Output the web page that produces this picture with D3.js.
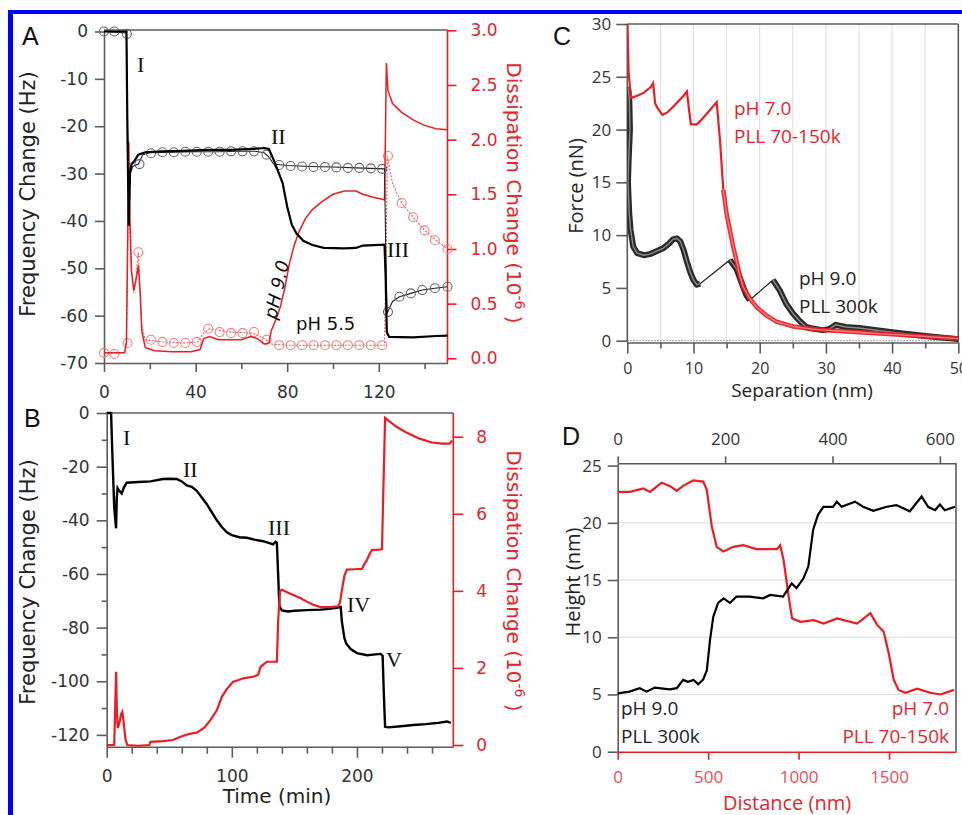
<!DOCTYPE html>
<html>
<head>
<meta charset="utf-8">
<script src="https://cdn.jsdelivr.net/npm/d3@7/dist/d3.min.js"></script>
<style>
body { margin: 0; background: #fff; }
svg { display: block; }
</style>
</head>
<body>
<svg width="962" height="815"></svg>
<script>
// ---------- Panel A : QCM-D, pH 9.0 (plain lines) and pH 5.5 (circles)
const aFreqPH9 = [[0,0],[9.8,0],[10.2,-20],[10.8,-41],[11.3,-30],[12,-28],[13,-27.5],[15,-26],[18,-25.5],[25,-25.3],[35,-25.2],[45,-25],[55,-25],[65,-24.8],[70,-24.6],[72,-24.8],[74,-27],[76,-29.5],[78,-32],[80,-37],[82,-40.8],[84,-42.6],[87,-44.2],[91,-45.1],[96,-45.7],[105,-45.8],[110,-45.7],[113,-45.2],[122.5,-45],[123,-52],[123.5,-63.5],[124.5,-64.5],[135,-64.6],[145,-64.3],[150,-64.2]];
const aDissPH9 = [[0,0.05],[9,0.05],[9.8,0.15],[10.3,1.0],[10.8,1.98],[11.3,1.3],[12,0.8],[13,0.62],[14,0.72],[15,0.85],[15.8,0.6],[16.5,0.25],[18,0.1],[22,0.07],[30,0.06],[38,0.06],[42,0.08],[43.5,0.18],[46,0.2],[50,0.17],[60,0.17],[64,0.2],[67,0.18],[70,0.13],[72,0.14],[73,0.25],[75,0.35],[77,0.47],[79,0.65],[81,0.87],[83,1.03],[85,1.15],[88,1.28],[91,1.36],[95,1.43],[100,1.5],[105,1.53],[110,1.53],[113,1.5],[118,1.47],[122.5,1.45],[123,2.2],[123.3,2.7],[124,2.45],[126,2.33],[130,2.25],[135,2.18],[140,2.13],[145,2.1],[150,2.09]];
const aFreqPH55 = [[0,0],[9.8,-0.3],[10.3,-20],[10.9,-40],[11.5,-30],[12.5,-28.5],[15,-28],[17,-26],[20,-25.6],[30,-25.5],[40,-25.4],[50,-25.4],[60,-25.3],[66,-25.3],[70,-25.6],[72,-26.5],[74,-28],[80,-28.3],[90,-28.5],[100,-28.6],[110,-28.8],[122.5,-29],[123,-45],[123.6,-59.5],[126,-57],[129,-56],[134,-55.3],[139,-54.6],[144.5,-54.2],[150,-53.9]];
const aFreqPH55Marks = [[0,0],[4.5,0],[10,-0.5],[15.5,-28],[20.5,-25.7],[25.5,-25.5],[30.5,-25.5],[35.5,-25.4],[40.5,-25.4],[45.5,-25.4],[50.5,-25.4],[55.5,-25.3],[60.5,-25.3],[65.5,-25.3],[71,-26],[76.5,-28.2],[81.5,-28.4],[86.5,-28.5],[91.5,-28.6],[96.5,-28.6],[101.5,-28.7],[106.5,-28.8],[111.5,-28.8],[116.5,-28.9],[121.5,-29],[124,-59.2],[129,-56],[134,-55.3],[139,-54.6],[144.5,-54.2],[150,-53.9]];
const aDissPH55 = [[0,0.05],[9,0.05],[9.8,0.15],[10.3,1.0],[10.8,1.9],[11.3,1.2],[12,0.8],[13,0.6],[14,0.75],[15,0.97],[15.8,0.6],[16.5,0.3],[18,0.17],[25,0.15],[35,0.14],[41,0.15],[43,0.22],[46,0.27],[55,0.24],[65,0.23],[70,0.18],[73,0.13],[80,0.12],[100,0.12],[122.5,0.12],[123.2,1.0],[123.7,1.85],[126,1.6],[130,1.42],[135,1.29],[140,1.17],[145,1.08],[150,1.0]];
const aDissPH55Marks = [[0,0.05],[4.5,0.04],[10.3,0.14],[15,0.97],[20.5,0.17],[25.5,0.15],[30.5,0.14],[35.5,0.14],[40.5,0.15],[45.5,0.27],[50.5,0.24],[55.5,0.23],[60.5,0.23],[65.5,0.24],[71,0.17],[76.5,0.12],[81.5,0.12],[86.5,0.12],[91.5,0.12],[96.5,0.12],[101.5,0.12],[106.5,0.12],[111.5,0.12],[116.5,0.12],[121.5,0.12],[124,1.85],[130,1.42],[135,1.29],[140,1.17],[144.5,1.08],[150,1.0]];
const aXTicks = [0, 40, 80, 120];
const aXMinor = [20, 60, 100, 140];
const aYTicks = [0, -10, -20, -30, -40, -50, -60, -70];
const aY2Ticks = [0, 0.5, 1, 1.5, 2, 2.5, 3];

// ---------- Panel B : QCM-D, layer by layer
const bFreq = [[0,0],[3.5,0],[4.5,-15],[6,-35],[7.5,-43],[8,-32],[8.7,-28],[10,-29],[12,-30],[13.5,-28],[16,-26],[25,-25.7],[35,-25.5],[45,-24.6],[50,-24.5],[56,-24.6],[60,-25.5],[64,-27],[68,-27.5],[72,-29],[76,-31.5],[80,-34],[84,-37],[88,-40],[92,-42.5],[96,-44.5],[100,-45.5],[106,-46.3],[112,-46.5],[118,-47.2],[125,-47.8],[130,-48.5],[133,-49],[135,-48],[136,-48.3],[137,-60],[138,-72],[140,-73.6],[145,-74],[150,-73.7],[160,-73.5],[171,-73.3],[178,-73],[185,-72.5],[187,-72.3],[188,-78],[190,-84],[191.5,-86],[195,-88],[200,-89.5],[208,-90.3],[215,-90],[219,-89.8],[220.5,-90.5],[221.5,-105],[222.5,-117],[225,-117.2],[235,-116.8],[245,-116.3],[255,-116],[265,-115.5],[272,-115],[275,-115.5]];
const bDiss = [[0,0],[6,0],[6.8,1.0],[7.5,1.9],[8.2,0.8],[8.8,0.44],[10,0.55],[11.5,0.8],[12.5,0.86],[13.5,0.6],[15,0.15],[16.5,0],[25,-0.02],[34,0],[35,0.08],[45,0.1],[53,0.13],[58,0.2],[63,0.26],[68,0.3],[72,0.32],[78,0.45],[83,0.65],[88,0.9],[92,1.25],[96,1.45],[101,1.64],[105,1.68],[109,1.73],[117,1.77],[121,1.82],[123,2.03],[128,2.16],[136,2.16],[137,3.2],[138.5,4.0],[140,4.03],[145,3.95],[150,3.88],[155,3.81],[160,3.72],[165,3.64],[171,3.58],[178,3.58],[185,3.6],[186.5,3.7],[188,4.03],[190,4.4],[192,4.55],[198,4.56],[204,4.57],[206,4.7],[208,4.8],[210,4.95],[212,5.06],[217,5.07],[220,5.08],[221,6.5],[222.5,8.49],[226,8.4],[232,8.25],[240,8.1],[250,7.95],[260,7.85],[268,7.82],[274,7.82],[276,7.9]];
const bXTicks = [0, 100, 200];
const bXMinor = [20, 40, 60, 80, 120, 140, 160, 180, 220, 240, 260];
const bYTicks = [0, -20, -40, -60, -80, -100, -120];
const bYMinor = [-10, -30, -50, -70, -90, -110];
const bY2Ticks = [0, 2, 4, 6, 8];

// ---------- Panel C : force vs separation
const cRed = [[0,31],[0.1,28],[0.2,25.5],[0.4,24],[0.6,23],[1.5,23.2],[2.5,23.5],[3.5,24],[3.9,24.4],[4.2,22.5],[4.6,22],[5.3,21.4],[6,21.6],[7,22.2],[8.5,23.2],[9,23.6],[9.3,22],[9.6,20.5],[10.5,20.5],[11,20.8],[12,21.5],[13.5,22.6],[14,19],[14.5,14.3]];
const cRedTail = [[14.5,14.3],[15,12],[16,8.9],[17,6.2],[17.5,5.1],[18.5,4],[19.5,3.2],[21,2.4],[22.5,1.8],[25,1.35],[28,1.1],[30,1.0],[35,0.8],[40,0.6],[45,0.4],[50,0.2]];
const cBlack1 = [[0.1,24],[0.3,23],[0.4,20],[0.2,17],[0.1,15],[0.3,12],[0.5,10.5],[0.9,8.9],[1.5,8.3],[2.5,8.1],[3.4,8.2],[4.5,8.5],[5.4,8.75],[6.3,9.2],[6.9,9.6],[7.5,9.7],[8,9.4],[8.5,8.6],[9,7.5],[9.5,6.5],[10,5.75],[10.5,5.3],[11,5.4]];
const cBlack2 = [[15.5,7.65],[16.5,6.8],[17.5,5.1],[18,4.3],[18.5,3.85]];
const cBlack3 = [[22,5.75],[23,4.8],[24,3.5],[25,2.6],[26,1.9],[27,1.3],[28,1.15],[29.5,1.0],[30.5,1.1],[31.5,1.5],[33,1.3],[35,1.2],[40,0.8],[45,0.45],[50,0.15]];
const cXTicks = [0, 10, 20, 30, 40, 50];
const cXMinor = [5, 15, 25, 35, 45];
const cYTicks = [0, 5, 10, 15, 20, 25, 30];

// ---------- Panel D : height profiles
const dBlack = [[0,5.1],[22,5.25],[41,5.55],[54,5.25],[69,5.6],[97,5.45],[110,5.55],[122,6.27],[131,6.1],[141,6.27],[150,5.9],[159,6.3],[166,7.1],[172,9.8],[178,11.8],[187,13.0],[197,13.4],[209,13.0],[221,13.55],[246,13.55],[271,13.4],[284,13.7],[308,13.55],[324,14.7],[333,14.3],[346,15.15],[355,16.2],[364,19.4],[373,20.7],[383,21.4],[401,21.4],[408,21.85],[417,21.4],[442,21.85],[457,21.4],[476,21.05],[501,21.4],[519,21.55],[544,21.0],[566,22.3],[578,21.4],[591,21.1],[600,21.6],[609,21.1],[628,21.4]];
const dRed = [[0,22.7],[68,22.7],[142,23.0],[179,22.7],[243,23.5],[290,23.2],[326,22.8],[363,23.25],[418,23.7],[473,23.6],[492,22.9],[520,19.7],[547,17.9],[584,17.5],[639,17.9],[694,18.05],[768,17.7],[880,17.7],[898,18.05],[917,16.75],[945,13.55],[964,11.65],[1010,11.35],[1083,11.5],[1139,11.2],[1213,11.65],[1323,11.2],[1397,12.1],[1433,11.1],[1470,10.5],[1498,8.6],[1526,6.27],[1553,5.4],[1590,5.15],[1655,5.5],[1729,5.15],[1784,5.0],[1858,5.4]];
const dTopTicks = [0, 200, 400, 600];
const dBottomTicks = [0, 500, 1000, 1500];
const dYTicks = [0, 5, 10, 15, 20, 25];
const dGrid = [5, 10, 15, 20];

const svg = d3.select("svg");
const GRAY = "#5c5c5c", RED = "#ec1c24", REDTXT = "#e3262e", TXT = "#333";
const sansA = "DejaVu Sans", sansC = "Open Sans";
const plain = d => String(d);   // plain hyphen, no thousands separator

// blue frame of the figure
svg.append("rect").attr("x", 8).attr("y", 10).attr("width", 5).attr("height", 805).attr("fill", "#0000ff");
svg.append("rect").attr("x", 8).attr("y", 10).attr("width", 954).attr("height", 4).attr("fill", "#0000ff");

// style an axis group
function styleAxis(g, color, font, size, textColor) {
    g.select(".domain").attr("stroke", color).attr("stroke-width", 1.6);
    g.selectAll(".tick line").attr("stroke", color).attr("stroke-width", 1.6);
    g.selectAll(".tick text").attr("fill", textColor || color)
        .attr("font-family", font).attr("font-size", size);
    return g;
}
function minor(g, axisGen, color) {
    g.call(axisGen.tickFormat("").tickSizeOuter(0));
    g.select(".domain").remove();
    g.selectAll(".tick line").attr("stroke", color).attr("stroke-width", 1.6);
}
function hline(x1, x2, y, color) {
    svg.append("line").attr("x1", x1).attr("x2", x2).attr("y1", y).attr("y2", y)
        .attr("stroke", color).attr("stroke-width", 1.6);
}
function vline(x, y1, y2, color) {
    svg.append("line").attr("x1", x).attr("x2", x).attr("y1", y1).attr("y2", y2)
        .attr("stroke", color).attr("stroke-width", 1.6);
}
function label(x, y, txt, opts) {
    const t = svg.append("text").attr("x", x).attr("y", y).text(txt)
        .attr("font-family", opts.font).attr("font-size", opts.size)
        .attr("fill", opts.color || "#111")
        .attr("text-anchor", opts.anchor || "start");
    if (opts.rotate !== undefined) t.attr("transform", `rotate(${opts.rotate},${x},${y})`);
    if (opts.style) t.attr("font-style", opts.style);
    return t;
}
function dissTitle(x, y) {
    const t = svg.append("text").attr("transform", `translate(${x},${y}) rotate(90)`)
        .attr("text-anchor", "middle").attr("font-family", sansA).attr("font-size", 20)
        .attr("fill", REDTXT);
    t.append("tspan").text("Dissipation Change (10");
    t.append("tspan").attr("dy", -8).attr("font-size", 14).text("-6");
    t.append("tspan").attr("dy", 8).text(" )");
}

// ================= Panel A =================
const xA = d3.scaleLinear().domain([0, 150]).range([104, 447.5]);
const yA = d3.scaleLinear().domain([-70, 0]).range([363, 31.5]);
const y2A = d3.scaleLinear().domain([0, 3]).range([358.3, 30.3]);

hline(104, 447.5, 30, GRAY);
svg.append("g").attr("transform", "translate(0,363)")
    .call(d3.axisBottom(xA).tickValues(aXTicks).tickFormat(plain).tickSize(9).tickSizeOuter(0).tickPadding(14))
    .call(g => styleAxis(g, GRAY, sansA, 17, TXT));
svg.append("g").attr("transform", "translate(0,363)")
    .call(g => minor(g, d3.axisBottom(xA).tickValues(aXMinor).tickSize(6), GRAY));
svg.append("g").attr("transform", "translate(104,0)")
    .call(d3.axisLeft(yA).tickValues(aYTicks).tickFormat(plain).tickSize(9).tickSizeOuter(0).tickPadding(7))
    .call(g => styleAxis(g, GRAY, sansA, 17, TXT));
svg.append("g").attr("transform", "translate(447.5,0)")
    .call(d3.axisRight(y2A).tickValues(aY2Ticks).tickSize(9).tickSizeOuter(0).tickPadding(14)
        .tickFormat(d3.format(".1f")))
    .call(g => styleAxis(g, RED, sansA, 17, REDTXT))
    .select(".domain").attr("d", "M0,30V363");

const lineA = d3.line().x(d => xA(d[0])).y(d => yA(d[1]));
const lineA2 = d3.line().x(d => xA(d[0])).y(d => y2A(d[1]));

svg.append("path").datum(aDissPH55).attr("d", lineA2).attr("fill", "none")
    .attr("stroke", "#f0575c").attr("stroke-width", 1.1).attr("stroke-dasharray", "2,1.5");
svg.append("g").selectAll("circle").data(aDissPH55Marks).join("circle")
    .attr("cx", d => xA(d[0])).attr("cy", d => y2A(d[1])).attr("r", 4.5)
    .attr("fill", "none").attr("stroke", "#f27b7f").attr("stroke-width", 1.1);
svg.append("path").datum(aDissPH9).attr("d", lineA2).attr("fill", "none")
    .attr("stroke", RED).attr("stroke-width", 1.5);
svg.append("path").datum(aFreqPH55).attr("d", lineA).attr("fill", "none")
    .attr("stroke", "#222").attr("stroke-width", 1.1);
svg.append("g").selectAll("circle").data(aFreqPH55Marks).join("circle")
    .attr("cx", d => xA(d[0])).attr("cy", d => yA(d[1])).attr("r", 4.5)
    .attr("fill", "none").attr("stroke", "#666").attr("stroke-width", 1.1);
svg.append("path").datum(aFreqPH9).attr("d", lineA).attr("fill", "none")
    .attr("stroke", "#000").attr("stroke-width", 2.2);

label(22, 45, "A", { font: "Liberation Sans", size: 25 });
label(35, 194, "Frequency Change (Hz)", { font: sansA, size: 21, anchor: "middle", rotate: -90, color: "#222" });
dissTitle(507, 193);
label(137, 72, "I", { font: "Liberation Serif", size: 22 });
label(271, 144, "II", { font: "Liberation Serif", size: 22 });
label(387, 257, "III", { font: "Liberation Serif", size: 22 });
label(276, 320, "pH 9.0", { font: sansA, size: 18, rotate: -77, style: "italic", color: "#111" });
label(296, 330, "pH 5.5", { font: sansA, size: 18, color: "#111" });

// ================= Panel B =================
const xB = d3.scaleLinear().domain([0, 277]).range([106.7, 453.3]);
const yB = d3.scaleLinear().domain([-124.4, 0]).range([746.7, 413]);
const y2B = d3.scaleLinear().domain([0, 8]).range([745, 436.7]);

hline(106.7, 453.3, 413, GRAY);
svg.append("g").attr("transform", "translate(0,746.7)")
    .call(d3.axisBottom(xB).tickValues(bXTicks).tickFormat(plain).tickSize(11).tickSizeOuter(0).tickPadding(12))
    .call(g => styleAxis(g, GRAY, sansA, 17, TXT));
svg.append("g").attr("transform", "translate(0,746.7)")
    .call(g => minor(g, d3.axisBottom(xB).tickValues(bXMinor).tickSize(7), GRAY));
svg.append("g").attr("transform", "translate(106.7,0)")
    .call(d3.axisLeft(yB).tickValues(bYTicks).tickFormat(plain).tickSize(10).tickSizeOuter(0).tickPadding(7))
    .call(g => styleAxis(g, GRAY, sansA, 17, TXT));
svg.append("g").attr("transform", "translate(106.7,0)")
    .call(g => minor(g, d3.axisLeft(yB).tickValues(bYMinor).tickSize(5), GRAY));
svg.append("g").attr("transform", "translate(453.3,0)")
    .call(d3.axisRight(y2B).tickValues(bY2Ticks).tickFormat(plain).tickSize(10).tickSizeOuter(0).tickPadding(13))
    .call(g => styleAxis(g, RED, sansA, 17, REDTXT))
    .select(".domain").attr("d", "M0,413V746.7");

const lineB = d3.line().x(d => xB(d[0])).y(d => yB(d[1]));
const lineB2 = d3.line().x(d => xB(d[0])).y(d => y2B(d[1]));
svg.append("path").datum(bFreq).attr("d", lineB).attr("fill", "none")
    .attr("stroke", "#000").attr("stroke-width", 2.4);
svg.append("path").datum(bDiss).attr("d", lineB2).attr("fill", "none")
    .attr("stroke", RED).attr("stroke-width", 2.2);

label(24, 427, "B", { font: "Liberation Sans", size: 25 });
label(35, 582, "Frequency Change (Hz)", { font: sansA, size: 21, anchor: "middle", rotate: -90, color: "#222" });
dissTitle(507, 581);
label(277, 803, "Time (min)", { font: sansA, size: 20, anchor: "middle", color: "#222" });
label(123, 445, "I", { font: "Liberation Serif", size: 22 });
label(183, 477, "II", { font: "Liberation Serif", size: 22 });
label(268, 535, "III", { font: "Liberation Serif", size: 22 });
label(347, 612, "IV", { font: "Liberation Serif", size: 22 });
label(386, 667, "V", { font: "Liberation Serif", size: 22 });

// ================= Panel C =================
const xC = d3.scaleLinear().domain([0, 50]).range([627.3, 958.3]);
const yC = d3.scaleLinear().domain([0, 30]).range([340.7, 24]);

svg.append("defs").append("clipPath").attr("id", "clipC")
    .append("rect").attr("x", 627.3).attr("y", 24).attr("width", 331).attr("height", 319);

svg.append("g").selectAll("line").data(cXMinor.concat([10, 20, 30, 40])).join("line")
    .attr("x1", d => xC(d)).attr("x2", d => xC(d)).attr("y1", 24).attr("y2", 342.5)
    .attr("stroke", "#dedede").attr("stroke-width", 1);
svg.append("line").attr("x1", 627.3).attr("x2", 958.3).attr("y1", yC(0)).attr("y2", yC(0))
    .attr("stroke", "#9a9a9a").attr("stroke-width", 1.2).attr("stroke-dasharray", "1.5,1.5");
hline(627.3, 958.3, 24, GRAY);
vline(958.3, 24, 342.5, GRAY);
svg.append("g").attr("transform", "translate(0,342.5)")
    .call(d3.axisBottom(xC).tickValues(cXTicks).tickFormat(plain).tickSize(11).tickSizeOuter(0).tickPadding(9))
    .call(g => styleAxis(g, GRAY, sansC, 16, TXT));
svg.append("g").attr("transform", "translate(0,342.5)")
    .call(g => minor(g, d3.axisBottom(xC).tickValues(cXMinor).tickSize(6), GRAY));
svg.append("g").attr("transform", "translate(627.3,0)")
    .call(d3.axisLeft(yC).tickValues(cYTicks).tickFormat(plain).tickSize(11).tickSizeOuter(0).tickPadding(5))
    .call(g => styleAxis(g, GRAY, sansC, 17, TXT))
    .select(".domain").attr("d", "M0,24V342.5");

const lineC = d3.line().x(d => xC(d[0])).y(d => yC(d[1]));
const plotC = svg.append("g").attr("clip-path", "url(#clipC)");
// black: thin line through everything, thick where the points are dense
plotC.append("path").datum(cBlack1.concat(cBlack2, cBlack3)).attr("d", lineC)
    .attr("fill", "none").attr("stroke", "#222").attr("stroke-width", 1.2);
[cBlack1, cBlack2, cBlack3].forEach(seg => {
    plotC.append("path").datum(seg).attr("d", lineC).attr("fill", "none")
        .attr("stroke", "#2a2a2a").attr("stroke-width", 6).attr("stroke-linejoin", "round");
    plotC.append("path").datum(seg).attr("d", lineC).attr("fill", "none")
        .attr("stroke", "#8a8a8a").attr("stroke-width", 1.4);
});
plotC.append("path").datum(cRedTail).attr("d", lineC).attr("fill", "none")
    .attr("stroke", RED).attr("stroke-width", 4.5).attr("stroke-linejoin", "round").attr("opacity", 0.9);
plotC.append("path").datum(cRedTail).attr("d", lineC).attr("fill", "none")
    .attr("stroke", "#f47a7e").attr("stroke-width", 1.3);
plotC.append("path").datum(cRed).attr("d", lineC).attr("fill", "none")
    .attr("stroke", RED).attr("stroke-width", 2.2);

label(553, 45, "C", { font: "Liberation Sans", size: 25 });
label(583, 186, "Force (nN)", { font: sansC, size: 20, anchor: "middle", rotate: -90, color: "#222" });
label(802, 397, "Separation (nm)", { font: sansC, size: 19, anchor: "middle", color: "#222" });
label(734, 115, "pH 7.0", { font: sansC, size: 19, color: REDTXT });
label(734, 143, "PLL 70-150k", { font: sansC, size: 19, color: REDTXT });
label(799, 285, "pH 9.0", { font: sansC, size: 19, color: "#222" });
label(799, 313, "PLL 300k", { font: sansC, size: 19, color: "#222" });

// ================= Panel D =================
const xDt = d3.scaleLinear().domain([0, 630]).range([617.7, 956]);
const xDb = d3.scaleLinear().domain([0, 1870]).range([617.7, 956]);
const yD = d3.scaleLinear().domain([0, 25.2]).range([751.7, 463.3]);

svg.append("g").selectAll("line").data(dGrid).join("line")
    .attr("x1", 617.7).attr("x2", 956).attr("y1", d => yD(d)).attr("y2", d => yD(d))
    .attr("stroke", "#dedede").attr("stroke-width", 1);
vline(956, 463.3, 751.7, GRAY);
svg.append("g").attr("transform", "translate(0,463.3)")
    .call(d3.axisTop(xDt).tickValues(dTopTicks).tickFormat(plain).tickSize(7).tickSizeOuter(0).tickPadding(11))
    .call(g => styleAxis(g, GRAY, sansC, 17, TXT));
svg.append("g").attr("transform", "translate(617.7,0)")
    .call(d3.axisLeft(yD).tickValues(dYTicks).tickFormat(plain).tickSize(10).tickSizeOuter(0).tickPadding(6))
    .call(g => styleAxis(g, GRAY, sansC, 17, TXT));
svg.append("g").attr("transform", "translate(0,751.7)")
    .call(d3.axisBottom(xDb).tickValues(dBottomTicks).tickFormat(plain).tickSize(8).tickSizeOuter(0).tickPadding(11))
    .call(g => styleAxis(g, RED, sansC, 17, "#e6515a"));

svg.append("path").datum(dRed).attr("d", d3.line().x(d => xDb(d[0])).y(d => yD(d[1])))
    .attr("fill", "none").attr("stroke", RED).attr("stroke-width", 2.2);
svg.append("path").datum(dBlack).attr("d", d3.line().x(d => xDt(d[0])).y(d => yD(d[1])))
    .attr("fill", "none").attr("stroke", "#000").attr("stroke-width", 2.2);

label(562, 445, "D", { font: "Liberation Sans", size: 25 });
label(580, 582, "Height (nm)", { font: sansC, size: 20, anchor: "middle", rotate: -90, color: "#222" });
label(787, 810, "Distance (nm)", { font: sansC, size: 20, anchor: "middle", color: REDTXT });
label(621, 715, "pH 9.0", { font: sansC, size: 19, color: "#222" });
label(621, 743, "PLL 300k", { font: sansC, size: 19, color: "#222" });
label(949, 715, "pH 7.0", { font: sansC, size: 19, color: REDTXT, anchor: "end" });
label(949, 743, "PLL 70-150k", { font: sansC, size: 19, color: REDTXT, anchor: "end" });
</script>
</body>
</html>
